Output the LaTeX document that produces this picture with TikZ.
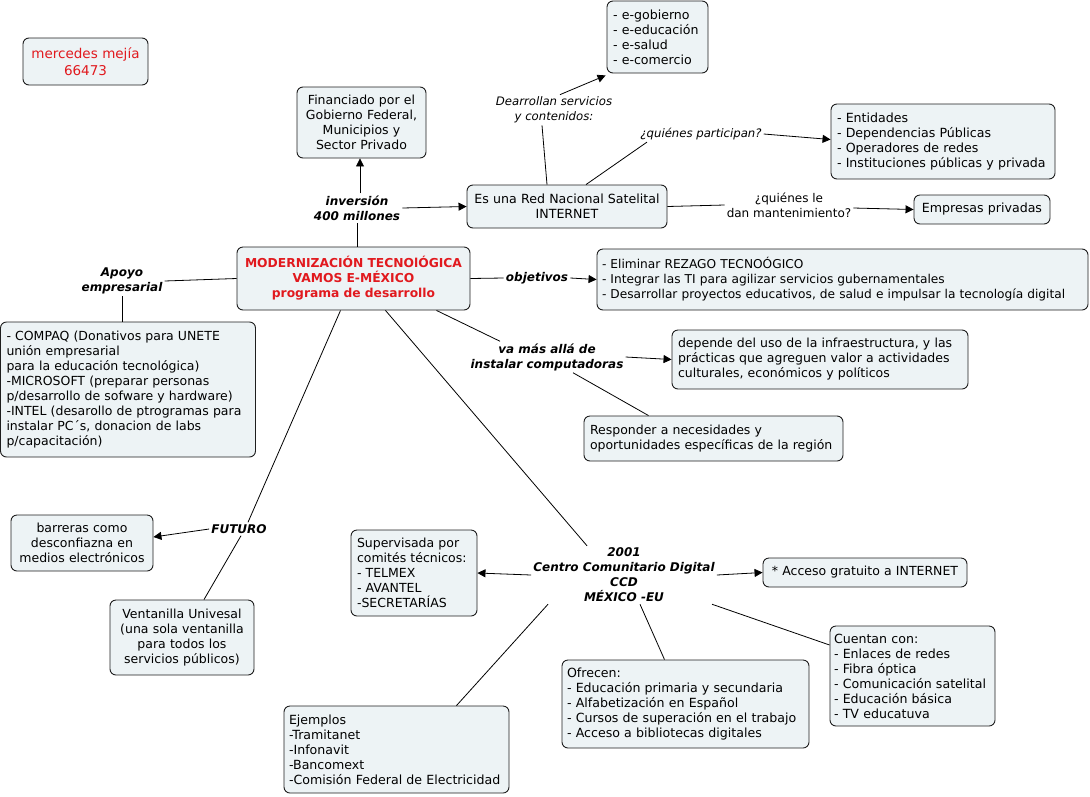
\documentclass[tikz,border=0pt]{standalone}
\usepackage{fontspec}
\setmainfont{DejaVu Sans}
\usetikzlibrary{arrows.meta}
\definecolor{boxfill}{RGB}{237,243,245}
\definecolor{boxline}{RGB}{30,30,30}
\definecolor{redtext}{RGB}{225,25,30}
\tikzset{
  box/.style={draw=boxline, fill=boxfill, rounded corners=6pt, line width=0.9pt,
    inner xsep=6pt, inner ysep=2pt, font=\fontsize{12.5}{15}\selectfont},
  tbox/.style={box, font=\fontsize{12.6}{15}\selectfont},
  lbl/.style={inner sep=2pt, font=\fontsize{12}{15}\selectfont\bfseries\itshape, align=center},
  tlbl/.style={inner sep=2pt, font=\fontsize{12}{15}\selectfont, align=center},
  ilbl/.style={tlbl, font=\fontsize{11.7}{15}\selectfont\itshape},
  conn/.style={draw=black, line width=0.8pt},
  arr/.style={conn, -{Triangle[length=8pt,width=8pt]}}
}
\begin{document}
\begin{tikzpicture}[x=1pt,y=-1pt]
\useasboundingbox (0,0) rectangle (1090,796);
% boxes
\node[box, minimum width=125pt, minimum height=47pt, text width=113pt, align=center, text=redtext, font=\fontsize{13.5}{17}\selectfont] (merc) at (85.5,61.5) {mercedes mejía\\66473};
\node[box, minimum width=129pt, minimum height=71pt, text width=117pt, align=center] (fin) at (361.5,122.5) {Financiado por el\\Gobierno Federal,\\Municipios y\\Sector Privado};
\node[tbox, minimum width=200pt, minimum height=43pt, text width=190pt, inner xsep=5pt, align=center] (red) at (567,206.5) {Es una Red Nacional Satelital\\INTERNET};
\node[tbox, minimum width=101pt, minimum height=72pt, text width=89pt, align=left] (egob) at (657.5,37) {- e-gobierno\\- e-educación\\- e-salud\\- e-comercio};
\node[tbox, minimum width=224pt, minimum height=75pt, text width=212pt, align=left] (ent) at (943,141.5) {- Entidades\\- Dependencias Públicas\\- Operadores de redes\\- Instituciones públicas y privada};
\node[tbox, minimum width=136pt, minimum height=29pt, text width=124pt, align=center] (emp) at (982,209.5) {Empresas privadas};
\node[box, minimum width=233pt, minimum height=63pt, text width=221pt, align=center, text=redtext, font=\fontsize{12.3}{15}\selectfont\bfseries] (main) at (353.5,278.5) {MODERNIZACIÓN TECNOlÓGICA\\VAMOS E-MÉXICO\\programa de desarrollo};
\node[box, minimum width=255pt, minimum height=135pt, text width=243pt, align=left] (compaq) at (128,389.5) {- COMPAQ (Donativos para UNETE\\unión empresarial\\para la educación tecnológica)\\-MICROSOFT (preparar personas\\p/desarrollo de sofware y hardware)\\-INTEL (desarollo de ptrogramas para\\instalar PC´s, donacion de labs\\p/capacitación)};
\node[tbox, minimum width=491pt, minimum height=61pt, text width=481pt, inner xsep=5pt, align=left, font=\fontsize{12.2}{15}\selectfont] (obj) at (842.5,279.5) {- Eliminar REZAGO TECNOÓGICO\\- Integrar las TI para agilizar servicios gubernamentales\\- Desarrollar proyectos educativos, de salud e impulsar la tecnología digital};
\node[box, minimum width=296pt, minimum height=59pt, text width=284pt, align=left] (dep) at (820,359.5) {depende del uso de la infraestructura, y las\\prácticas que agreguen valor a actividades\\culturales, económicos y políticos};
\node[box, minimum width=259pt, minimum height=45pt, text width=247pt, align=left] (resp) at (713.5,438.5) {Responder a necesidades y\\oportunidades específicas de la región};
\node[box, minimum width=142pt, minimum height=56pt, text width=130pt, align=center] (barr) at (82,543) {barreras como\\desconfiazna en\\medios electrónicos};
\node[box, minimum width=144pt, minimum height=75pt, text width=132pt, align=center] (vent) at (182,637.5) {Ventanilla Univesal\\(una sola ventanilla\\para todos los\\servicios públicos)};
\node[box, minimum width=126pt, minimum height=86pt, text width=114pt, align=left] (sup) at (414,573) {Supervisada por\\comités técnicos:\\- TELMEX\\- AVANTEL\\-SECRETARÍAS};
\node[box, minimum width=204pt, minimum height=29pt, text width=192pt, align=center] (acc) at (865,572.5) {* Acceso gratuito a INTERNET};
\node[tbox, minimum width=247pt, minimum height=88pt, text width=237pt, inner xsep=5pt, align=left] (ofr) at (685.5,704) {Ofrecen:\\- Educación primaria y secundaria\\- Alfabetización en Español\\- Cursos de superación en el trabajo\\- Acceso a bibliotecas digitales};
\node[tbox, minimum width=165pt, minimum height=100pt, text width=157pt, inner xsep=4pt, align=left] (cue) at (912.5,676) {Cuentan con:\\- Enlaces de redes\\- Fibra óptica\\- Comunicación satelital\\- Educación básica\\- TV educatuva};
\node[tbox, minimum width=225pt, minimum height=87pt, text width=215pt, inner xsep=5pt, align=left] (ejm) at (396.5,749.5) {Ejemplos\\-Tramitanet\\-Infonavit\\-Bancomext\\-Comisión Federal de Electricidad};
% labels
\node[lbl] (inv) at (357,208) {inversión\\400 millones};
\node[ilbl] (dear) at (554,110) {Dearrollan servicios\\y contenidos:};
\node[ilbl] (qpart) at (701,134) {¿quiénes participan?};
\node[tlbl] (qmant) at (789,205) {¿quiénes le\\dan mantenimiento?};
\node[lbl] (apoyo) at (122,281) {Apoyo\\empresarial};
\node[lbl] (objl) at (537,278) {objetivos};
\node[lbl] (vamas) at (547,357) {va más allá de\\instalar computadoras};
\node[lbl] (futuro) at (239,529) {FUTURO};
\node[lbl] (ccd) at (624,575) {2001\\Centro Comunitario Digital\\CCD\\MÉXICO -EU};
% connectors
\draw[conn] ([xshift=3.5pt]main.north) -- (inv.south);
\draw[arr] ([xshift=3pt]inv.north) -- ([xshift=-1.5pt]fin.south);
\draw[arr] (inv.east) -- (red.west);
\draw[conn] ([xshift=-20pt]red.north) -- ([xshift=-12pt]dear.south);
\draw[arr] ([xshift=6pt]dear.north) -- ([xshift=-1pt,yshift=-2pt]egob.south west);
\draw[conn] ([xshift=19pt]red.north) -- ([xshift=-54pt]qpart.south);
\draw[arr] (qpart.east) -- ([yshift=2pt]ent.west);
\draw[conn] (red.east) -- (qmant.west);
\draw[arr] ([yshift=-3pt]qmant.east) -- (emp.west);
\draw[conn] (apoyo.east) -- (main.west);
\draw[conn] (apoyo.south) -- (apoyo.south |- compaq.north);
\draw[conn] (main.east) -- (objl.west);
\draw[arr] (objl.east) -- (obj.west);
\draw[conn] ([xshift=83pt]main.south) -- ([xshift=-47pt]vamas.north);
\draw[arr] (vamas.east) -- (dep.west);
\draw[conn] ([xshift=26pt]vamas.south) -- ([xshift=-65pt]resp.north);
\draw[conn] ([xshift=32pt]main.south) -- ([xshift=-37pt]ccd.north);
\draw[conn] ([xshift=-13pt]main.south) -- ([xshift=9pt]futuro.north);
\draw[conn] ([xshift=2pt]futuro.south) -- ([xshift=22pt]vent.north);
\draw[arr] (futuro.west) -- ([yshift=6pt]barr.east);
\draw[arr] (ccd.west) -- (sup.east);
\draw[arr] (ccd.east) -- (acc.west);
\draw[conn] ([xshift=16pt]ccd.south) -- ([xshift=-21pt]ofr.north);
\draw[conn] ([xshift=88pt]ccd.south) -- ([yshift=31pt]cue.west);
\draw[conn] ([xshift=-76pt]ccd.south) -- ([xshift=60pt]ejm.north);
\end{tikzpicture}
\end{document}
